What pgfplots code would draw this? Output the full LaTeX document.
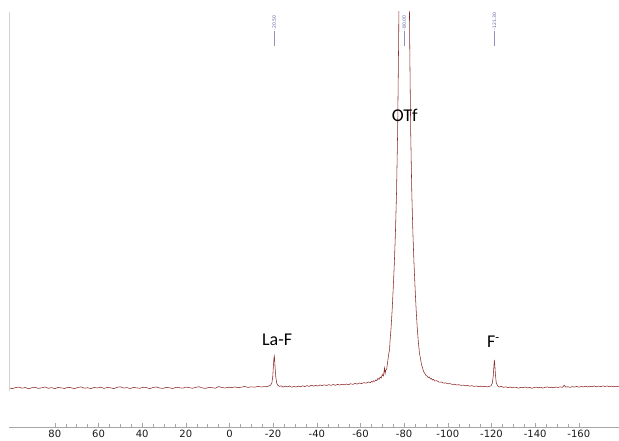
\documentclass[border=0pt]{standalone}
\usepackage{pgfplots}
\pgfplotsset{compat=1.18}
\usepackage{fontspec}
\setmainfont{Carlito}
\newfontfamily\tickfont{DejaVu Sans}
\definecolor{spec}{RGB}{140,40,40}
\definecolor{ann}{RGB}{95,100,160}
\begin{document}
\begin{tikzpicture}[x=1pt,y=1pt]
\useasboundingbox (0,0) rectangle (619,441);
\begin{axis}[
  at={(9pt,14pt)}, anchor=south west,
  scale only axis, width=610pt, height=415pt,
  x dir=reverse, xmin=-178.4, xmax=101, ymin=-39, ymax=376,
  axis x line=bottom, axis y line=none,
  axis line style={-, gray!70},
  xtick={-160,-140,...,80}, minor x tick num=3,
  tick align=inside, major tick length=4pt, minor tick length=2.5pt,
  every tick/.style={gray!70},
  ytick=\empty,
  /pgf/number format/assume math mode=true,
  xticklabel style={font=\tickfont\fontsize{10}{11}\selectfont, text=black!90, inner sep=0.8pt, yshift=-2.5pt},
]
\addplot[spec, line width=0.55pt] coordinates {
(101,0.2) (99.5,-0.6) (98,0.4) (96.5,0.9) (95,-0.2) (93.5,0.5) (92,-0.8) (90.5,0.3) (89,0.7) (87.5,-0.4)
(86,0.2) (84.5,1.0) (83,-0.3) (81.5,0.4) (80,-0.7) (78.5,0.6) (77,0.1) (75.5,-0.5) (74,0.8) (72.5,0.2)
(71,-0.6) (69.5,0.5) (68,1.1) (66.5,-0.2) (65,0.3) (63.5,-0.7) (62,0.6) (60.5,0.0) (59,0.9) (57.5,-0.4)
(56,0.5) (54.5,0.2) (53,-0.6) (51.5,0.7) (50,1.2) (48.5,-0.1) (47,0.4) (45.5,-0.5) (44,0.6) (42.5,0.1)
(41,-0.3) (39.5,0.8) (38,0.3) (36.5,-0.6) (35,0.5) (33.5,1.0) (32,0.0) (30.5,-0.4) (29,0.6) (27.5,0.2)
(26,-0.5) (24.5,0.7) (23,0.3) (21.5,-0.2) (20,0.9) (18.5,0.4) (17,-0.3) (15.5,0.6) (14,1.3) (12.5,0.1)
(11,-0.4) (9.5,0.7) (8,0.3) (6.5,-0.2) (5,1.4) (3.5,0.5) (2,0.0) (0.5,0.8) (-1,0.4) (-2.5,1.1)
(-4,0.2) (-5.5,0.9) (-7,1.5) (-8.5,0.6) (-10,1.2) (-11.5,0.8) (-13,1.6) (-14.5,1.0) (-16,1.4) (-17,1.2)
(-18,2.0) (-18.8,2.8) (-19.4,5) (-19.8,11) (-20.1,22) (-20.35,30) (-20.5,32) (-20.65,29) (-20.9,20) (-21.2,11)
(-21.6,5) (-22.1,2.8) (-22.8,1.6) (-23.6,2.2) (-24.5,0.9) (-25.5,1.8) (-26.5,1.1) (-27.5,2.0) (-28.5,0.8) (-29.5,1.5)
(-30.5,1.0) (-31.5,1.9) (-32.5,1.2) (-33.5,2.2) (-34.5,1.4) (-35.5,2.4) (-36.5,1.6) (-37.5,2.8) (-38.5,1.9) (-39.5,2.6)
(-40.5,2.0) (-41.5,3.0) (-42.5,2.3) (-43.5,3.2) (-44.5,2.5) (-45.5,3.4) (-46.5,2.6) (-47.5,3.5) (-48.5,2.7) (-49.5,3.6)
(-50.5,2.9) (-51.5,3.8) (-52.5,3.1) (-53.5,4.0) (-54.5,3.3) (-55.5,4.3) (-56.5,3.6) (-57.5,4.7) (-58.5,3.9) (-59.5,5.0)
(-60.5,4.4) (-61.5,5.4) (-62.5,4.8) (-63.5,6.0) (-64.5,5.4) (-65,6.5) (-65.5,5.9) (-66,7.2) (-66.5,6.6) (-67,8.0)
(-67.5,7.4) (-68,9.6) (-68.5,8.6) (-69,11.0) (-69.5,10.0) (-70,13.5) (-70.5,12.0) (-71,20) (-71.3,14.5) (-71.6,18)
(-72,19) (-72.5,27) (-73,35) (-73.3,38) (-73.5,46) (-74,60) (-74.5,78) (-75,100) (-75.5,125) (-76,155)
(-76.5,195) (-77,255) (-77.5,353) (-78,520) (-78.5,800) (-79,1500) (-79.5,2600) (-80,3200) (-80.5,2600) (-81,1500)
(-81.5,800) (-82,520) (-82.5,353) (-83,255) (-83.5,195) (-84,155) (-84.5,125) (-85,100) (-85.5,78) (-86,60)
(-86.5,46) (-87,35) (-87.5,29) (-88,23) (-88.5,19.5) (-89,16) (-89.5,14.5) (-90,12.5) (-90.5,12.0) (-91,10.5)
(-91.5,11.0) (-92,9.0) (-92.5,9.5) (-93,8.0) (-93.5,8.5) (-94,7.0) (-95,7.3) (-96,5.8) (-97,6.0) (-98,4.9)
(-99,5.1) (-100,4.2) (-101,4.4) (-102,3.6) (-103,3.8) (-104,3.0) (-105,3.3) (-106,2.6) (-107,2.9) (-108,2.2)
(-109,2.5) (-110,1.9) (-111,2.3) (-112,1.6) (-113,2.0) (-114,1.4) (-115,1.8) (-116,1.2) (-117,1.7) (-118,1.1)
(-119,1.6) (-119.8,2.2) (-120.4,5) (-120.8,12) (-121.1,22) (-121.3,28) (-121.5,24) (-121.8,13) (-122.2,5) (-122.8,2.2)
(-123.6,1.0) (-124.5,1.6) (-125.5,0.6) (-126.5,1.2) (-127.5,0.4) (-128.5,1.0) (-129.5,0.2) (-130.5,0.9) (-131.5,0.5) (-132.5,-0.2)
(-133.5,0.7) (-134.5,0.3) (-135.5,1.0) (-136.5,0.1) (-137.5,0.6) (-138.5,-0.3) (-139.5,0.5) (-140.5,0.9) (-141.5,0.2) (-142.5,0.7)
(-143.5,-0.1) (-144.5,0.6) (-145.5,1.1) (-146.5,0.3) (-147.5,0.8) (-148.5,0.2) (-149.5,1.0) (-150.5,0.5) (-151.5,1.2) (-152.5,0.6)
(-153.3,2.8) (-154,0.9) (-155,1.3) (-156,0.6) (-157,1.4) (-158,0.9) (-159,1.6) (-160,0.8) (-161,1.5) (-162,1.1)
(-163,1.8) (-164,1.0) (-165,1.7) (-166,1.3) (-167,2.0) (-168,1.2) (-169,1.9) (-170,1.4) (-171,2.1) (-172,1.5)
(-173,2.0) (-174,1.3) (-175,1.9) (-176,1.2) (-177,1.7) (-178.4,1.3)
};
% peak pick markers
\addplot[ann!70, line width=0.4pt] coordinates {(-20.5,342) (-20.5,357)};
\addplot[ann!70, line width=0.4pt] coordinates {(-80,342) (-80,357)};
\addplot[ann!70, line width=0.4pt] coordinates {(-121.3,342) (-121.3,357)};
\node[rotate=90, font=\tickfont\fontsize{4.6}{5}\selectfont, text=ann, inner sep=0pt, anchor=west] at (axis cs:-20.5,357.5) {-20.50};
\node[rotate=90, font=\tickfont\fontsize{4.6}{5}\selectfont, text=ann, inner sep=0pt, anchor=west] at (axis cs:-80,357.5) {-80.00};
\node[rotate=90, font=\tickfont\fontsize{4.6}{5}\selectfont, text=ann, inner sep=0pt, anchor=west] at (axis cs:-121.3,357.5) {-121.30};
% left border line
\draw[gray!35, line width=0.8pt] (axis cs:101,-3) -- (axis cs:101,376);
% peak labels
\node[font=\fontsize{18}{20}\selectfont] at (axis cs:-21.8,48) {La-F};
\node[font=\fontsize{18}{20}\selectfont] at (axis cs:-80.3,273) {OTf};
\node[font=\fontsize{18}{20}\selectfont] at (axis cs:-120.9,46) {F\textsuperscript{-}};
\end{axis}
\end{tikzpicture}
\end{document}
